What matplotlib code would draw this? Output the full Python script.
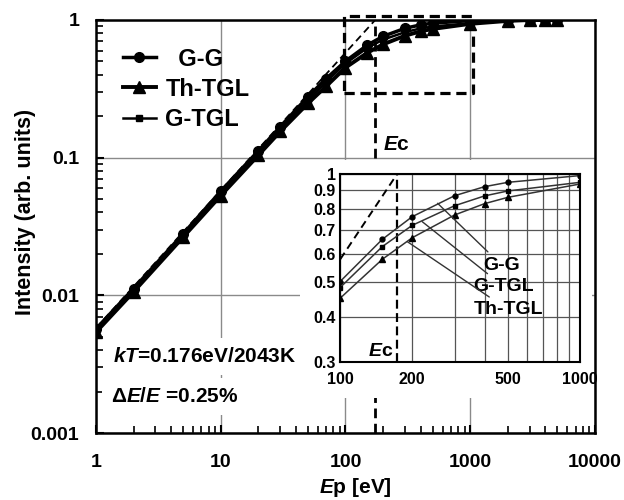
import matplotlib
matplotlib.use("Agg")
import matplotlib.pyplot as plt
from matplotlib.patches import Rectangle
from matplotlib.ticker import NullLocator

plt.rcParams['font.family'] = ['Liberation Sans', 'DejaVu Sans']
plt.rcParams['font.weight'] = 'bold'
plt.rcParams['axes.labelweight'] = 'bold'
plt.rcParams['mathtext.fontset'] = 'custom'
plt.rcParams['mathtext.it'] = 'Liberation Sans:italic:bold'
plt.rcParams['mathtext.rm'] = 'Liberation Sans:bold'
plt.rcParams['mathtext.bf'] = 'Liberation Sans:bold'

# primary energy (eV) and normalised intensity for the three gun types
energy = [1, 2, 5, 10, 20, 30, 50, 70, 100, 150, 200, 300, 400, 500,
          1000, 2000, 3000, 4000, 5000]
gg = [0.0057, 0.0112, 0.028, 0.057, 0.112, 0.168, 0.277, 0.375, 0.502,
      0.658, 0.761, 0.870, 0.922, 0.948, 0.990, 1.0, 1.0, 1.0, 1.0]
gtgl = [0.0056, 0.0110, 0.0272, 0.055, 0.108, 0.160, 0.262, 0.355, 0.483,
        0.628, 0.720, 0.816, 0.869, 0.897, 0.948, 0.99, 1.0, 1.0, 1.0]
thtgl = [0.0054, 0.0106, 0.0265, 0.053, 0.104, 0.155, 0.248, 0.330, 0.451,
         0.579, 0.665, 0.769, 0.827, 0.861, 0.938, 0.985, 1.0, 1.0, 1.0]

Ec = 173
asym_E = [1, 173]
asym_I = [0.00578, 1.0]

# zoom window
box_x = [97, 1045, 1045, 97, 97]
box_y = [0.293, 0.293, 1.075, 1.075, 0.293]

fig = plt.figure(figsize=(6.24, 5), dpi=100)
ax = fig.add_axes([0.1538, 0.134, 0.7997, 0.826])
ax.set_xscale('log')
ax.set_yscale('log')
ax.set_xlim(1, 10000)
ax.set_ylim(0.001, 1)
ax.grid(True, which='major', color='#8a8a8a', lw=1)
ax.set_axisbelow(True)
for s in ax.spines.values():
    s.set_linewidth(1.8)

ax.set_xticks([1, 10, 100, 1000, 10000], ['1', '10', '100', '1000', '10000'])
ax.set_yticks([0.001, 0.01, 0.1, 1], ['0.001', '0.01', '0.1', '1'])
ax.tick_params(which='both', direction='in', top=False, right=False, labelsize=14)
ax.tick_params(which='major', length=6, width=1.5)
ax.tick_params(which='minor', length=5, width=1.2)
ax.tick_params(axis='x', pad=15)
ax.tick_params(axis='y', pad=12)

ax.axvline(Ec, color='black', lw=2, linestyle=(0, (3.5, 2)), zorder=0.9)
ax.plot(asym_E, asym_I, color='black', lw=1.3, linestyle=(0, (4, 2.5)), zorder=1.8)
ax.plot(box_x, box_y, color='black', lw=2.3, linestyle=(0, (3.2, 1.8)),
        clip_on=False, zorder=5)

ax.plot(energy, gg, color='black', lw=2.5, marker='o', ms=7, label='  G-G', zorder=3)
ax.plot(energy, thtgl, color='black', lw=2.8, marker='^', ms=9, label='Th-TGL', zorder=4)
ax.plot(energy, gtgl, color='black', lw=1.8, marker='s', ms=4.5, label='G-TGL', zorder=3)

# white backing behind the inset and its labels
ax.add_patch(Rectangle((0.481, 0.204), 0.468, 0.476, transform=fig.transFigure,
                       facecolor='white', edgecolor='none', zorder=1))

ax.legend(loc='upper left', bbox_to_anchor=(0.054, 0.933), frameon=False,
          fontsize=17, handlelength=1.4, handletextpad=0.4, labelspacing=0.3,
          borderpad=0, borderaxespad=0)

ax.text(199, 0.124, r'$E$c', fontsize=15, va='center', ha='left')
ax.text(1.375, 0.00359, r'$kT$=0.176eV/2043K', fontsize=15, va='center', ha='left',
        bbox=dict(boxstyle='square,pad=0.45', fc='white', ec='none'), zorder=6)
ax.text(1.318, 0.00184, r'$\Delta E/E$ =0.25%', fontsize=15, va='center', ha='left',
        bbox=dict(boxstyle='square,pad=0.45', fc='white', ec='none'), zorder=6)

ax.set_xlabel(r'$E$p [eV]', fontsize=15)
ax.xaxis.set_label_coords(0.52, -0.105)
ax.set_ylabel('Intensity (arb. units)', fontsize=15.5)
ax.yaxis.set_label_coords(-0.12, 0.535)

# inset: 100-1000 eV
axins = fig.add_axes([0.5449, 0.276, 0.3846, 0.376])
axins.set_xscale('log')
axins.set_yscale('log')
axins.set_xlim(100, 1000)
axins.set_ylim(0.3, 1)
xt = [100, 200, 300, 400, 500, 600, 700, 800, 900, 1000]
axins.set_xticks(xt, ['100', '200', '', '', '500', '', '', '', '', '1000'])
yt = [0.3, 0.4, 0.5, 0.6, 0.7, 0.8, 0.9, 1]
axins.set_yticks(yt, ['0.3', '0.4', '0.5', '0.6', '0.7', '0.8', '0.9', '1'])
axins.xaxis.set_minor_locator(NullLocator())
axins.yaxis.set_minor_locator(NullLocator())
axins.tick_params(length=0, labelsize=11.5)
axins.tick_params(axis='x', pad=7)
axins.tick_params(axis='y', pad=3)
axins.grid(True, color='#555555', lw=0.9)
axins.set_axisbelow(True)
for s in axins.spines.values():
    s.set_linewidth(1.5)

axins.plot(asym_E, asym_I, color='black', lw=1.4, linestyle=(0, (4, 2.5)))
axins.axvline(Ec, color='black', lw=1.6, linestyle=(0, (4, 2)))
for vals, mk, ms in [(gg, 'o', 3.5), (gtgl, 's', 3.5), (thtgl, '^', 4)]:
    axins.plot(energy, vals, color='#333333', lw=1.1, marker=mk, ms=ms,
               markerfacecolor='black', markeredgecolor='black')

lead = dict(arrowstyle='-', color='#333333', lw=1, shrinkA=2, shrinkB=0)
axins.annotate('G-G', xy=(255, 0.829), xytext=(395, 0.558), fontsize=14,
               ha='left', va='center', arrowprops=lead)
axins.annotate('G-TGL', xy=(220, 0.737), xytext=(360, 0.486), fontsize=14,
               ha='left', va='center', arrowprops=lead)
axins.annotate('Th-TGL', xy=(191, 0.648), xytext=(360, 0.419), fontsize=14,
               ha='left', va='center', arrowprops=lead)
axins.text(166, 0.32, r'$E$c', fontsize=14, va='center', ha='right')

fig.savefig('out.png', dpi=100)
